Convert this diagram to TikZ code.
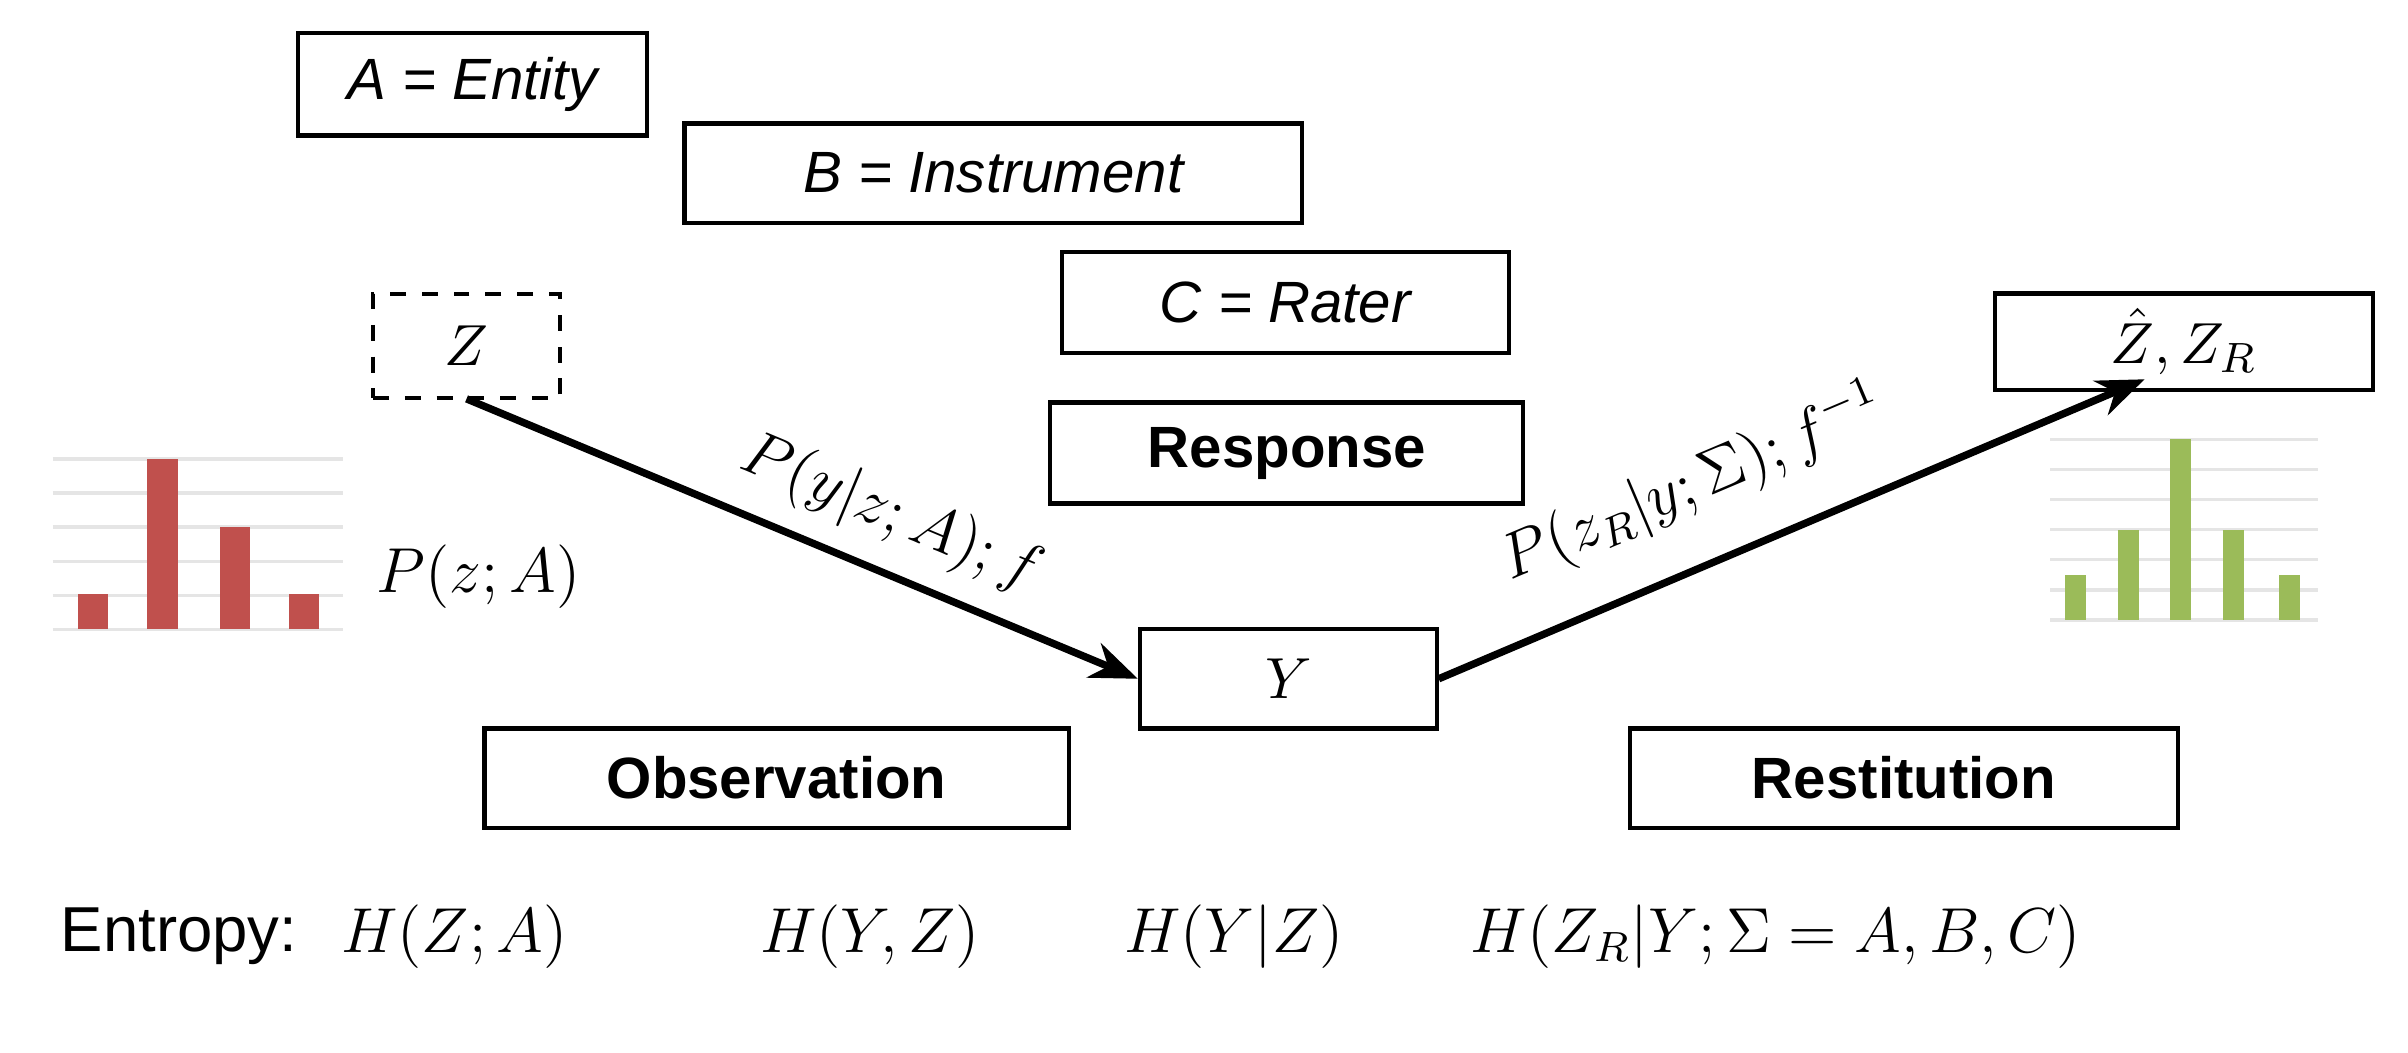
\documentclass[tikz,border=0pt]{standalone}
\usepackage{fontspec}
\usepackage{amsmath}
\setmainfont{Liberation Sans}
\usetikzlibrary{arrows.meta}
\definecolor{bred}{HTML}{C0504D}
\definecolor{bgreen}{HTML}{9BBB59}
\begin{document}
\begin{tikzpicture}[x=0.01cm,y=-0.01cm,
  box/.style={draw,thick,inner sep=0,font=\fontsize{11}{13}\selectfont},
  arr/.style={-{Stealth[length=9pt,width=7pt]},line width=1.4pt},
  lab/.style={font=\fontsize{12}{14}\selectfont}]
\useasboundingbox (0,0) rectangle (1600,699);
% boxes
\node[box,minimum width=2.32cm,minimum height=0.68cm] (a) at (314,56) {\itshape A = Entity};
\node[box,minimum width=4.10cm,minimum height=0.66cm] (b) at (660,115) {\itshape B = Instrument};
\node[box,minimum width=2.97cm,minimum height=0.67cm] (c) at (854,201) {\itshape C = Rater};
\node[box,dashed,minimum width=1.24cm,minimum height=0.69cm] (z) at (310,230) {$Z$};
\node[box,minimum width=3.14cm,minimum height=0.67cm] (resp) at (855,301) {\bfseries Response};
\node[box,minimum width=1.97cm,minimum height=0.66cm] (y) at (856,451) {$Y$};
\node[box,minimum width=3.88cm,minimum height=0.66cm] (obs) at (516,517) {\bfseries Observation};
\node[box,minimum width=3.64cm,minimum height=0.66cm] (rest) at (1265,517) {\bfseries Restitution};
\node[box,minimum width=2.51cm,minimum height=0.64cm] (zh) at (1451,227) {$\hat{Z},Z_R$};
% arrows
\coordinate (s1) at (310,265);
\coordinate (e2) at (1425,252);
\draw[arr] (s1) -- (y.west);
\draw[arr] (y.east) -- (e2);
\node[lab,rotate=-22.7] (l1) at (592,342) {$P(y|z;A);f$};
\node[lab,rotate=23] (l2) at (1125,322) {$P(z_R|y;\Sigma);f^{-1}$};
% red chart
\foreach \g in {305,327.6,350.2,372.8,395.4,418}
  \draw[black!10,line width=0.6pt] (35,\g) -- (228,\g);
\foreach \x/\t in {62/395,108/305,156/350,202/395}
  \fill[bred] (\x-10,\t) rectangle (\x+10,418);
\node[lab] (pz) at (318,383) {$P(z;A)$};
% green chart
\foreach \g in {292,312,332,352,372,392,412}
  \draw[black!10,line width=0.6pt] (1362,\g) -- (1540,\g);
\foreach \x/\t in {1379/382,1414/352,1449/292,1484/352,1521/382}
  \fill[bgreen] (\x-7,\t) rectangle (\x+7,412);
% entropy row
\node[lab,anchor=west] (ent) at (28,622) {Entropy:};
\node[lab] (h1) at (302,622) {$H(Z;A)$};
\node[lab] (h2) at (578,622) {$H(Y,Z)$};
\node[lab] (h3) at (820,622) {$H(Y|Z)$};
\node[lab] (h4) at (1180,622) {$H(Z_R|Y;\Sigma=A,B,C)$};
\end{tikzpicture}
\end{document}
